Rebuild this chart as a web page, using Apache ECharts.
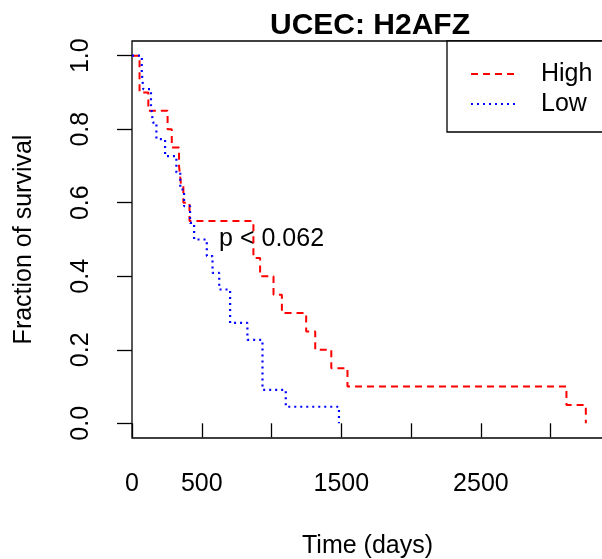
<!DOCTYPE html>
<html>
<head>
<meta charset="utf-8">
<script src="https://cdn.jsdelivr.net/npm/echarts@6/dist/echarts.min.js"></script>
<style>
html,body{margin:0;padding:0;background:#fff;}
#c{width:602px;height:559px;}
</style>
</head>
<body>
<div id="c"></div>
<script>
// ---- data ----
const highTime = [0, 54, 117, 255, 285, 337, 351, 368, 412, 870, 918, 1014, 1074, 1248, 1313, 1428, 1544, 3113, 3252];
const highSurv = [1, 0.9, 0.85, 0.8, 0.75, 0.7, 0.65, 0.6, 0.55, 0.45, 0.4, 0.35, 0.3, 0.25, 0.2, 0.15, 0.1, 0.05, 0];
const lowTime = [0, 70, 81, 136, 150, 175, 237, 318, 346, 373, 416, 445, 536, 577, 625, 703, 827, 935, 1102, 1483];
const lowSurv = [1, 0.955, 0.909, 0.864, 0.818, 0.773, 0.727, 0.682, 0.636, 0.591, 0.545, 0.5, 0.455, 0.409, 0.364, 0.273, 0.227, 0.091, 0.045, 0];
const xTicks = [0, 500, 1000, 1500, 2000, 2500, 3000];
const xTickLabels = [0, 500, 1500, 2500];
const yTicks = [0, 0.2, 0.4, 0.6, 0.8, 1.0];
const pText = 'p < 0.062';
const pPos = [1000, 0.5];
const seriesNames = ['High', 'Low'];
const titleText = 'UCEC: H2AFZ';

const FONT = 'Liberation Sans, Arial, Helvetica, sans-serif';
const zip = (a, b) => a.map((v, i) => [v, b[i]]);

const chart = echarts.init(document.getElementById('c'), null, {renderer: 'canvas'});
chart.setOption({
  animation: false,
  backgroundColor: '#fff',
  title: {
    text: titleText,
    left: 365, top: 6, textAlign: 'center',
    textStyle: {fontFamily: FONT, fontSize: 30, fontWeight: 'bold', color: '#000'}
  },
  grid: {
    left: 132, top: 41, width: 471, height: 397,
    outerBoundsMode: 'none', containLabel: false,
    show: true, borderColor: '#000', borderWidth: 1.3, backgroundColor: 'transparent'
  },
  legend: {
    data: seriesNames,
    orient: 'vertical',
    left: 447, top: 41,
    padding: [18, 30, 13, 23],
    itemGap: 0,
    itemWidth: 46, itemHeight: 14,
    borderColor: '#000', borderWidth: 1.3,
    backgroundColor: '#fff',
    itemStyle: {opacity: 0},
    textStyle: {fontFamily: FONT, fontSize: 25, color: '#000', lineHeight: 30, padding: [0, 0, 0, 19]}
  },
  xAxis: {
    type: 'value', min: 0, max: 3375,
    splitLine: {show: false},
    axisLine: {show: false},
    axisTick: {show: true, length: 14, inside: false, customValues: xTicks, lineStyle: {color: '#000', width: 1.3}},
    axisLabel: {customValues: xTickLabels, margin: 34, fontFamily: FONT, fontSize: 25, color: '#000',
      formatter: v => String(v)},
    name: 'Time (days)', nameLocation: 'middle', nameGap: 96,
    nameTextStyle: {fontFamily: FONT, fontSize: 25, color: '#000'}
  },
  yAxis: {
    type: 'value', min: -0.04, max: 1.04,
    splitLine: {show: false},
    axisLine: {show: false},
    axisTick: {show: true, length: 15, inside: false, customValues: yTicks, lineStyle: {color: '#000', width: 1.3}},
    axisLabel: {customValues: yTicks, rotate: 90, margin: 38, fontFamily: FONT, fontSize: 25, color: '#000',
      formatter: v => v.toFixed(1)},
    name: 'Fraction of survival', nameLocation: 'middle', nameGap: 95, nameRotate: 90,
    nameTextStyle: {fontFamily: FONT, fontSize: 25, color: '#000'}
  },
  series: [
    {
      name: seriesNames[0], type: 'line', step: 'end', symbol: 'none',
      data: zip(highTime, highSurv),
      itemStyle: {color: '#ff0000'},
      lineStyle: {color: '#ff0000', width: 2, type: [7, 5]}
    },
    {
      name: seriesNames[1], type: 'line', step: 'end', symbol: 'none',
      data: zip(lowTime, lowSurv),
      itemStyle: {color: '#0000ff'},
      lineStyle: {color: '#0000ff', width: 2.2, type: [2, 4]}
    },
    {
      name: 'pvalue', type: 'scatter', symbolSize: 0,
      data: [pPos],
      silent: true,
      itemStyle: {opacity: 1},
      label: {show: true, position: 'inside', formatter: pText, opacity: 1,
        fontFamily: FONT, fontSize: 25, color: '#000', textBorderWidth: 0}
    }
  ]
});
</script>
</body>
</html>
